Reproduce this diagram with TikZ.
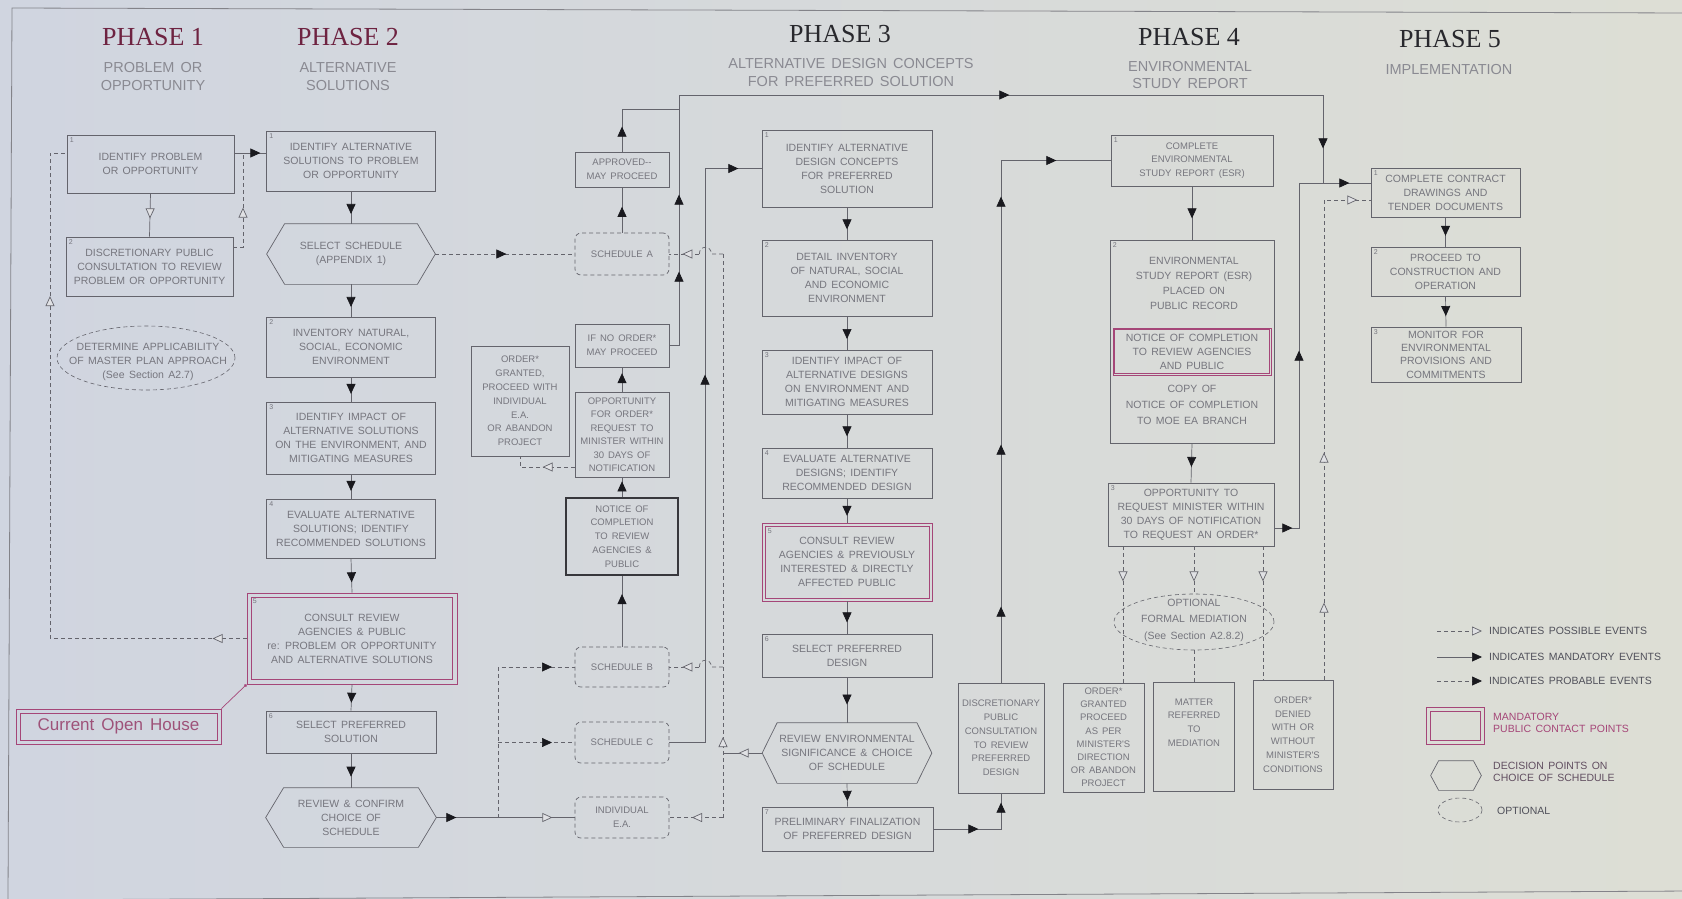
\documentclass[tikz,border=0pt]{standalone}
\usepackage{fontspec}
\setmainfont{Liberation Serif}
\newfontfamily\cad{Liberation Sans}[WordSpace=1.5]
\usetikzlibrary{arrows.meta,decorations.markings,shapes.geometric}
\definecolor{bgL}{RGB}{208,213,224}
\definecolor{bgM}{RGB}{226,227,230}
\definecolor{bgR}{RGB}{221,222,213}
\definecolor{bgc}{RGB}{224,225,228}
\definecolor{linec}{RGB}{100,100,108}
\definecolor{txtc}{RGB}{118,118,126}
\definecolor{arrc}{RGB}{25,25,30}
\definecolor{magc}{RGB}{165,70,120}
\definecolor{phc}{RGB}{110,35,65}
\definecolor{phd}{RGB}{40,40,45}
\definecolor{subc}{RGB}{138,138,146}
\definecolor{darkc}{RGB}{55,55,60}
\definecolor{lgc}{RGB}{80,80,90}
\newcommand\hexdraw[2]{\draw[ln] (#2.west) -- ([xshift=#1]#2.north west) -- ([xshift=-#1]#2.north east) -- (#2.east) -- ([xshift=-#1]#2.south east) -- ([xshift=#1]#2.south west) -- cycle;}
\newcommand\mandinner[2]{\draw[magc,line width=0.6pt] ([xshift=#1,yshift=-#1]#2.north west) rectangle ([xshift=-#1,yshift=#1]#2.south east);}
\begin{document}
\begin{tikzpicture}[x=1pt,y=-1pt,
 ln/.style={draw=linec,line width=0.7pt},
 dsh/.style={ln,dash pattern=on 4pt off 3pt},
 fa/.style={postaction={decorate,decoration={markings,mark=at position #1 with {\pgfsetdash{}{0pt}\arrow{Triangle[length=10pt,width=9pt,color=arrc]}}}}},
 oa/.style={postaction={decorate,decoration={markings,mark=at position #1 with {\pgfsetdash{}{0pt}\arrow{Triangle[length=10pt,width=9pt,fill=bgc]}}}}},
 sz/.style 2 args={minimum width=#1pt,minimum height=#2pt},
 bx/.style={draw=linec,line width=0.7pt,rectangle,inner sep=1pt,align=center,text=txtc,font=\cad\fontsize{10.5}{14}\selectfont},
 nb/.style={bx,font=\cad\fontsize{9.5}{13.8}\selectfont},
 sched/.style={nb,dash pattern=on 4pt off 3pt,rounded corners=6pt},
 mand/.style={bx,draw=magc,line width=0.8pt},
 hexn/.style={bx,draw=none},
 ov/.style={ellipse,draw=linec,line width=0.6pt,dash pattern=on 4pt off 3pt,inner sep=0pt},
 txt/.style={align=center,text=txtc,inner sep=0pt,font=\cad\fontsize{10.5}{14}\selectfont},
 numl/.style={anchor=north west,inner sep=3pt,font=\cad\fontsize{7}{8}\selectfont,text=txtc},
 num/.style={label={[numl]north west:#1}},
 numm/.style={label={[numl,inner sep=6pt]north west:#1}},
 ttl/.style={inner sep=0pt,font=\fontsize{26}{30}\selectfont},
 sub/.style={align=center,inner sep=0pt,text=subc,font=\cad\fontsize{14.5}{17.5}\selectfont},
 lgt/.style={anchor=west,inner xsep=7pt,inner ysep=0pt,align=left,text=lgc,font=\cad\fontsize{10.5}{12.5}\selectfont}
]
\useasboundingbox (0,0) rectangle (1682,898);
\shade[left color=bgL,middle color=bgM,right color=bgR] (0,0) rectangle (1682,898);
\draw[linec!80,line width=0.8pt] (1690,13) -- (12,8) -- (8,900) (8,900) -- (1690,891);

% ---------- titles
\node[ttl,text=phc] (ph1) at (153,37) {PHASE 1};
\node[ttl,text=phc] (ph2) at (348,37) {PHASE 2};
\node[ttl,text=phd] (ph3) at (840,34) {PHASE 3};
\node[ttl,text=phd] (ph4) at (1189,37) {PHASE 4};
\node[ttl,text=phd] (ph5) at (1450,39) {PHASE 5};
\node[sub] (sb1) at (153,76.5) {PROBLEM OR\\OPPORTUNITY};
\node[sub] (sb2) at (348,76.5) {ALTERNATIVE\\SOLUTIONS};
\node[sub] (sb3) at (851,72.5) {ALTERNATIVE DESIGN CONCEPTS\\FOR PREFERRED SOLUTION};
\node[sub] (sb4) at (1190,75) {ENVIRONMENTAL\\STUDY REPORT};
\node[sub] (sb5) at (1449,70) {IMPLEMENTATION};

% ---------- phase 1
\node[bx,sz={167}{58},num=1] (p11) at (150.5,164) {IDENTIFY PROBLEM\\OR OPPORTUNITY};
\node[bx,sz={167}{59},num=2] (p12) at (149.5,266.5) {DISCRETIONARY PUBLIC\\CONSULTATION TO REVIEW\\PROBLEM OR OPPORTUNITY};
\node[ov,sz={178}{64}] (el1) at (146,358) {};
\node[txt] (el1t) at (148,362) {DETERMINE APPLICABILITY\\OF MASTER PLAN APPROACH\\(See Section A2.7)};
\node[mand,sz={205}{35},text=magc!80!gray,font=\cad\fontsize{17}{20}\selectfont] (cur) at (118.5,726.5) {Current Open House};
\mandinner{4.5pt}{cur}

% ---------- phase 2
\node[bx,sz={169}{60},num=1] (p21) at (351,161) {IDENTIFY ALTERNATIVE\\SOLUTIONS TO PROBLEM\\OR OPPORTUNITY};
\node[hexn,sz={168}{60}] (hx1) at (351,254) {SELECT SCHEDULE\\(APPENDIX 1)};
\hexdraw{18pt}{hx1}
\node[bx,sz={169}{60},num=2] (p22) at (351,347) {INVENTORY NATURAL,\\SOCIAL, ECONOMIC\\ENVIRONMENT};
\node[bx,sz={169}{72},num=3] (p23) at (351,438) {IDENTIFY IMPACT OF\\ALTERNATIVE SOLUTIONS\\ON THE ENVIRONMENT, AND\\MITIGATING MEASURES};
\node[bx,sz={169}{59},num=4] (p24) at (351,528.5) {EVALUATE ALTERNATIVE\\SOLUTIONS; IDENTIFY\\RECOMMENDED SOLUTIONS};
\node[mand,sz={210}{91},numm=5] (p25) at (352,638.5) {CONSULT REVIEW\\AGENCIES \& PUBLIC\\re: PROBLEM OR OPPORTUNITY\\AND ALTERNATIVE SOLUTIONS};
\mandinner{5pt}{p25}
\node[bx,sz={170}{42},num=6] (p26) at (351,732) {SELECT PREFERRED\\SOLUTION};
\node[hexn,sz={170}{59}] (hx2) at (351,817.5) {REVIEW \& CONFIRM\\CHOICE OF\\SCHEDULE};
\hexdraw{18pt}{hx2}

% ---------- schedules column
\node[sched,sz={94}{42}] (schA) at (622,254) {SCHEDULE A};
\node[nb,sz={94}{35}] (appr) at (622,169.5) {APPROVED--\\MAY PROCEED};
\node[nb,sz={94}{43}] (ifno) at (622,345.5) {IF NO ORDER*\\MAY PROCEED};
\node[nb,sz={94}{85},font=\cad\fontsize{9.5}{13.5}\selectfont] (opp) at (622,434.5) {OPPORTUNITY\\FOR ORDER*\\REQUEST TO\\MINISTER WITHIN\\30 DAYS OF\\NOTIFICATION};
\node[nb,sz={98}{110}] (ordg) at (520,401) {ORDER*\\GRANTED,\\PROCEED WITH\\INDIVIDUAL\\E.A.\\OR ABANDON\\PROJECT};
\node[nb,sz={112}{77},draw=darkc,line width=1.3pt] (notice) at (622,536.5) {NOTICE OF\\COMPLETION\\TO REVIEW\\AGENCIES \&\\PUBLIC};
\node[sched,sz={94}{40}] (schB) at (622,667) {SCHEDULE B};
\node[sched,sz={94}{41}] (schC) at (622,742.5) {SCHEDULE C};
\node[sched,sz={94}{41}] (indEA) at (622,817.5) {INDIVIDUAL\\E.A.};

% ---------- phase 3
\node[bx,sz={170}{77},num=1] (p31) at (847,168.5) {IDENTIFY ALTERNATIVE\\DESIGN CONCEPTS\\FOR PREFERRED\\SOLUTION};
\node[bx,sz={170}{76},num=2] (p32) at (847,278) {DETAIL INVENTORY\\OF NATURAL, SOCIAL\\AND ECONOMIC\\ENVIRONMENT};
\node[bx,sz={170}{64},num=3] (p33) at (847,382) {IDENTIFY IMPACT OF\\ALTERNATIVE DESIGNS\\ON ENVIRONMENT AND\\MITIGATING MEASURES};
\node[bx,sz={170}{50},num=4] (p34) at (847,473) {EVALUATE ALTERNATIVE\\DESIGNS; IDENTIFY\\RECOMMENDED DESIGN};
\node[mand,sz={170}{78},numm=5] (p35) at (847,562) {CONSULT REVIEW\\AGENCIES \& PREVIOUSLY\\INTERESTED \& DIRECTLY\\AFFECTED PUBLIC};
\mandinner{3.5pt}{p35}
\node[bx,sz={170}{43},num=6] (p36) at (847,655.5) {SELECT PREFERRED\\DESIGN};
\node[hexn,sz={169}{60}] (hx3) at (847,753) {REVIEW ENVIRONMENTAL\\SIGNIFICANCE \& CHOICE\\OF SCHEDULE};
\hexdraw{15pt}{hx3}
\node[bx,sz={171}{44},num=7] (p37) at (847.5,829) {PRELIMINARY FINALIZATION\\OF PREFERRED DESIGN};
\node[nb,sz={86}{110}] (disc) at (1001,738) {DISCRETIONARY\\PUBLIC\\CONSULTATION\\TO REVIEW\\PREFERRED\\DESIGN};

% ---------- phase 4
\node[bx,sz={162}{51},num=1,font=\cad\fontsize{9.5}{13.5}\selectfont] (p41) at (1192,160.5) {COMPLETE\\ENVIRONMENTAL\\STUDY REPORT (ESR)};
\node[bx,sz={164}{203},num=2] (p42) at (1192,341.5) {};
\node[txt,font=\cad\fontsize{10.5}{15}\selectfont] (p42a) at (1194,283.5) {ENVIRONMENTAL\\STUDY REPORT (ESR)\\PLACED ON\\PUBLIC RECORD};
\node[mand,sz={158}{47}] (p42n) at (1192,351.5) {NOTICE OF COMPLETION\\TO REVIEW AGENCIES\\AND PUBLIC};
\mandinner{2pt}{p42n}
\node[txt,font=\cad\fontsize{10.5}{16}\selectfont] (p42b) at (1192,405) {COPY OF\\NOTICE OF COMPLETION\\TO MOE EA BRANCH};
\node[bx,sz={166}{63},num=3] (p43) at (1191,514.5) {OPPORTUNITY TO\\REQUEST MINISTER WITHIN\\30 DAYS OF NOTIFICATION\\TO REQUEST AN ORDER*};
\node[ov,sz={160}{56}] (el2) at (1194,622) {};
\node[txt,font=\cad\fontsize{10.5}{16.5}\selectfont] (el2t) at (1194,620) {OPTIONAL\\FORMAL MEDIATION\\(See Section A2.8.2)};
\node[nb,sz={81}{109},font=\cad\fontsize{9.5}{13.2}\selectfont] (ogr) at (1103.5,737.5) {ORDER*\\GRANTED\\PROCEED\\AS PER\\MINISTER'S\\DIRECTION\\OR ABANDON\\PROJECT};
\node[nb,sz={81}{109}] (mat) at (1194,736.5) {MATTER\\REFERRED\\TO\\MEDIATION\\[14pt]};
\node[nb,sz={80}{109}] (ode) at (1293,734.5) {ORDER*\\DENIED\\WITH OR\\WITHOUT\\MINISTER'S\\CONDITIONS};

% ---------- phase 5
\node[bx,sz={149}{49},num=1] (p51) at (1445.5,192.5) {COMPLETE CONTRACT\\DRAWINGS AND\\TENDER DOCUMENTS};
\node[bx,sz={149}{49},num=2] (p52) at (1445.5,271.5) {PROCEED TO\\CONSTRUCTION AND\\OPERATION};
\node[bx,sz={150}{55},num=3,font=\cad\fontsize{10.5}{13.3}\selectfont] (p53) at (1446,354.5) {MONITOR FOR\\ENVIRONMENTAL\\PROVISIONS AND\\COMMITMENTS};

% ---------- coordinates
\path ([yshift=11pt]p11.east) coordinate (r1);
\path ([yshift=11pt]p11.west) coordinate (l1);
\coordinate (lx) at (50,639);
\coordinate (m1) at (243,153);
\coordinate (j2) at (498,817.5);
\coordinate (ja) at (679,109);
\coordinate (tl) at (679,95);
\coordinate (tr) at (1323,95);
\coordinate (k2) at (1323,183);
\coordinate (k1) at (1299,183);
\coordinate (k3) at (1324,200);
\coordinate (od) at (520,467);
\coordinate (cv) at (705,400);
\coordinate (jv) at (723,753);
\coordinate (dL) at (1123,500);
\coordinate (dR) at (1263,500);
\path ([xshift=30pt]schA.east) coordinate (hA);
\path ([xshift=30pt]schB.east) coordinate (hB);

% ---------- phase 1 connectors
\draw[ln,fa=26pt] (r1) -- (r1 -| p21.west);
\draw[dsh,oa=34pt,oa=539pt] (p25.west) -- (p25.west -| lx) -- (lx |- l1) -- (l1);
\draw[ln,oa=25pt] (p11.south) -- (p12.north);
\draw[dsh,oa=49pt] ([yshift=19.5pt]p12.east) -| (m1);
\draw[magc,line width=0.7pt,-{Circle[length=3pt]}] (cur.north east) -- (p25.south west);

% ---------- phase 2 connectors
\draw[ln,fa=0.7] (p21.south) -- (hx1.north);
\draw[ln,fa=0.7] (hx1.south) -- (p22.north);
\draw[ln,fa=0.68] (p22.south) -- (p23.north);
\draw[ln,fa=0.68] (p23.south) -- (p24.north);
\draw[ln,fa=0.7] (p24.south) -- (p25.north);
\draw[ln,fa=0.7] (p25.south) -- (p26.north);
\draw[ln,fa=0.68] (p26.south) -- (hx2.north);
\draw[dsh,fa=0.51] (hx1.east) -- (schA.west);
\draw[ln,fa=20pt,oa=116pt] (hx2.east) -- (j2) -- (indEA.west);
\draw[dsh,fa=204.5pt] (j2) -- (j2 |- schB.west) -- (schB.west);
\draw[dsh,fa=54pt] (j2 |- schC.west) -- (schC.west);

% ---------- schedules connectors
\draw[ln,fa=0.74] (schB.north) -- (notice.south);
\draw[ln,fa=0.8] (notice.north) -- (opp.south);
\draw[ln,fa=0.76] (opp.north) -- (ifno.south);
\draw[ln,fa=0.57] (schA.north) -- (appr.south);
\draw[ln,fa=25pt] (appr.north) |- (ja);
\draw[ln,fa=83.5pt,fa=160.5pt,fa=590.5pt,fa=957.5pt] (ifno.east) -- (ifno.east -| tl) -- (tl) -- (tr) -- (k2);
\draw[dsh,oa=32pt] (od -| opp.west) -- (od) -- (ordg.south);
\draw[ln,fa=403.5pt,fa=643pt] (schC.east) -- (schC.east -| cv) -- (cv |- p31.west) -- (p31.west);
\draw[ln,oa=0.6] (hx3.west) -- (jv);
\draw[dsh,oa=80.5pt] (jv |- indEA.east) -- (jv |- schA.east);
\draw[dsh,oa=31pt] (jv |- indEA.east) -- (indEA.east);
\draw[dsh] (jv |- schA.east) -- ([xshift=12pt]hA) .. controls +(0,-9) and +(0,-9) .. (hA);
\draw[dsh,oa=17pt] (hA) -- (schA.east);
\draw[dsh] (jv |- schB.east) -- ([xshift=12pt]hB) .. controls +(0,-9) and +(0,-9) .. (hB);
\draw[dsh,oa=17pt] (hB) -- (schB.east);

% ---------- phase 3 connectors
\draw[ln,fa=0.68] (p31.south) -- (p32.north);
\draw[ln,fa=0.68] (p32.south) -- (p33.north);
\draw[ln,fa=0.66] (p33.south) -- (p34.north);
\draw[ln,fa=0.72] (p34.south) -- (p35.north);
\draw[ln,fa=0.65] (p35.south) -- (p36.north);
\draw[ln,fa=0.6] (p36.south) -- (hx3.north);
\draw[ln,fa=0.75] (hx3.south) -- (p37.north);
\draw[ln,fa=45pt,fa=94pt] (p37.east) -| (disc.south);
\draw[ln,fa=76pt,fa=238pt,fa=486pt,fa=577.5pt] (disc.north) |- (p41.west);

% ---------- phase 4 connectors
\draw[ln,fa=0.6] (p41.south) -- (p42.north);
\draw[ln,fa=0.6] (p42.south) -- (p43.north);
\draw[ln,fa=18pt,fa=202pt,fa=420pt] ([yshift=-13.5pt]p43.east) -| (k1) -- (k1 -| p51.west);
\draw[dsh,oa=35pt] (p43.south -| dL) -- (ogr.north -| dL);
\draw[dsh,oa=35pt] (p43.south -| el2.center) -- (el2.north);
\draw[dsh] (el2.south) -- (el2.south |- mat.north);
\draw[dsh,oa=35pt] (p43.south -| dR) -- (ode.north -| dR);
\draw[dsh,oa=77pt,oa=227pt,oa=513pt] (ode.north -| k3) -- (k3) -- (k3 -| p51.west);

% ---------- phase 5 connectors
\draw[ln,fa=0.63] (p51.south) -- (p52.north);
\draw[ln,fa=0.65] (p52.south) -- (p53.north);

% ---------- legend
\node[lgt] (lg1) at (1482,631) {INDICATES POSSIBLE EVENTS};
\node[lgt] (lg2) at (1482,657) {INDICATES MANDATORY EVENTS};
\node[lgt] (lg3) at (1482,681) {INDICATES PROBABLE EVENTS};
\coordinate (lg1s) at (1437,631);
\coordinate (lg2s) at (1437,657);
\coordinate (lg3s) at (1437,681);
\draw[dsh,-{Triangle[length=10pt,width=9pt,fill=bgc]}] (lg1s) -- (lg1.west);
\draw[ln,-{Triangle[length=10pt,width=9pt,color=arrc]}] (lg2s) -- (lg2.west);
\draw[dsh,-{Triangle[length=10pt,width=9pt,color=arrc]}] (lg3s) -- (lg3.west);
\node[mand,sz={58}{37}] (lgb) at (1455,725.5) {};
\mandinner{4.5pt}{lgb}
\node[lgt,text=magc] (lgbt) at (1486,723) {MANDATORY\\PUBLIC CONTACT POINTS};
\node[hexn,sz={50}{29}] (lgh) at (1456,775.5) {};
\hexdraw{8pt}{lgh}
\node[lgt,text=lgc!80!magc] (lght) at (1486,772) {DECISION POINTS ON\\CHOICE OF SCHEDULE};
\node[ov,sz={44}{24}] (lge) at (1460,810) {};
\node[lgt] (lget) at (1490,811) {OPTIONAL};
\end{tikzpicture}
\end{document}
